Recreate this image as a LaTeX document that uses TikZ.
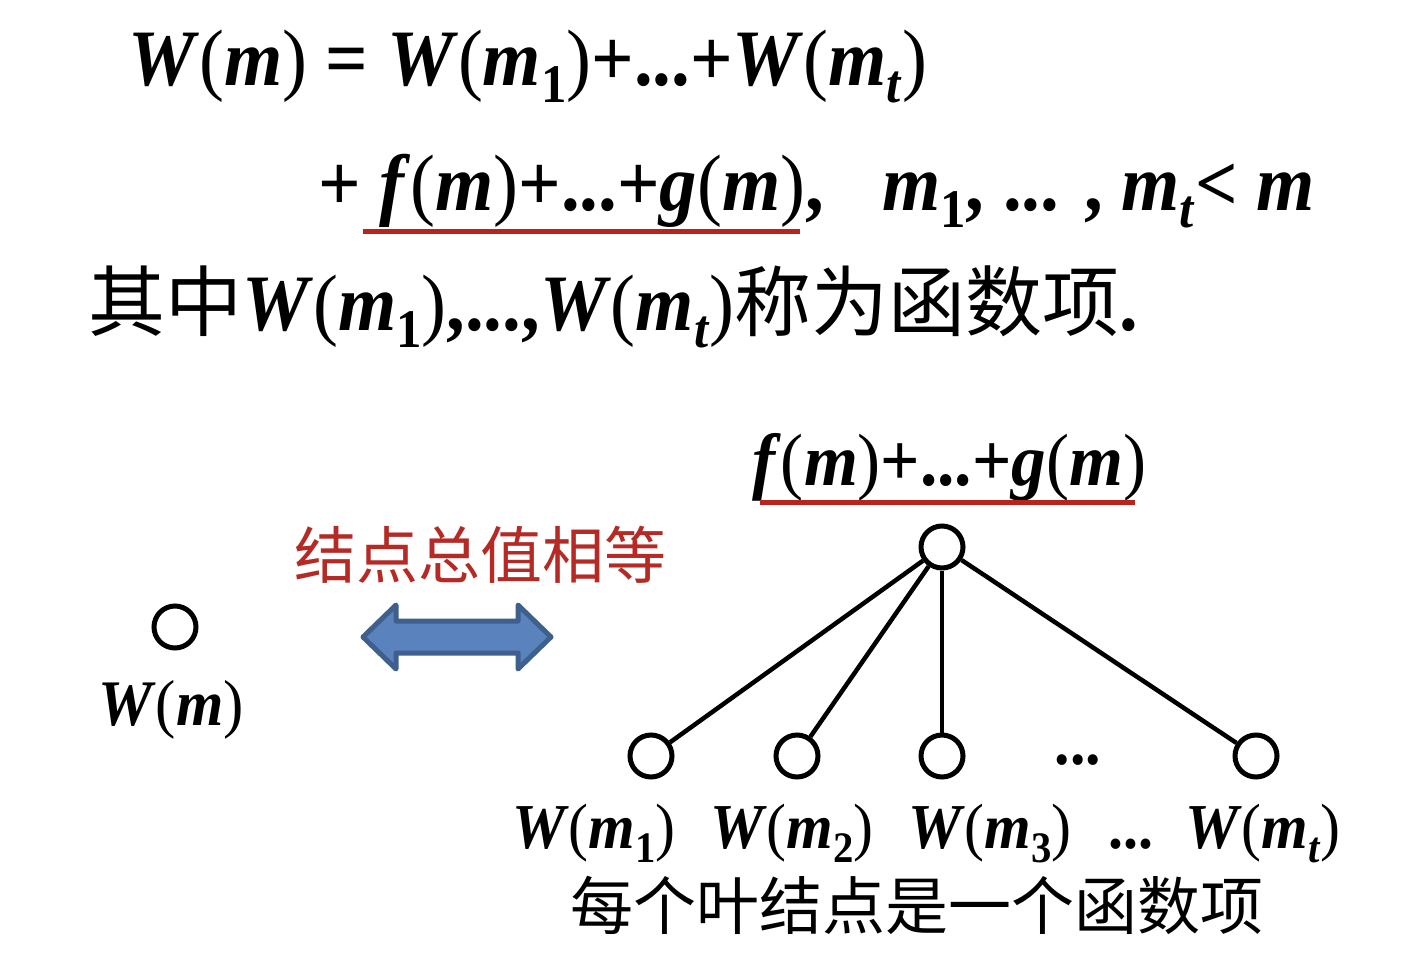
\documentclass[tikz,border=0pt]{standalone}
\usepackage{fontspec}
\usepackage{graphicx}
\setmainfont{Liberation Serif}[FakeStretch=0.935]
\newfontfamily\cjk{Noto Sans CJK SC}
\newcommand\fs[1]{\fontsize{#1}{#1}\selectfont}
\newcommand\sbs[1]{\raisebox{-0.22em}{\scalebox{0.68}{#1}}}
\newcommand\vi[1]{\textit{#1}}
\newcommand\lp{{\mdseries(}}
\newcommand\rp{{\mdseries)}}
\definecolor{ulred}{HTML}{B8231E}
\definecolor{txtred}{HTML}{B52A25}
\definecolor{arrfill}{HTML}{5A82BD}
\definecolor{arrline}{HTML}{3F5F8C}
\tikzset{
  txt/.style={inner sep=0pt, anchor=base west, font=\bfseries},
  vtx/.style={circle, draw=black, line width=5pt, minimum size=42pt, inner sep=0pt},
  edge/.style={line width=4.5pt},
  uline/.style={draw=ulred, line width=5pt},
}
\begin{document}
\begin{tikzpicture}[x=1pt,y=-1pt]
\useasboundingbox (0,0) rectangle (1410,961);
% formula lines
\node[txt] (l1) at (128,85) {\fs{80}\vi{W}\lp\vi{m}\rp\ = \vi{W}\lp\vi{m}\sbs{1}\rp+...+\vi{W}\lp\vi{m}\sbs{\vi{t}}\rp};
\node[txt] (l2) at (318,210) {\fs{80}+ \vi{f}\lp\vi{m}\rp+...+\vi{g}\lp\vi{m}\rp,\hspace{58pt}\vi{m}\sbs{1}, ... , \vi{m}\sbs{\vi{t}}< \vi{m}};
\draw[uline] (363,231) -- (800,231);
\node[txt] (l3) at (88,330) {\fs{80}{\cjk\mdseries\fs{77}其中}\vi{W}\lp\vi{m}\sbs{1}\rp,...,\vi{W}\lp\vi{m}\sbs{\vi{t}}\rp{\cjk\mdseries\fs{77}称为函数项}.};
% left node
\node[vtx] (w) at (175,627) {};
\node[txt] (wl) at (98,725) {\fs{65}\vi{W}\lp\vi{m}\rp};
% equal label and arrow
\node[inner sep=0pt, text=txtred, font=\cjk\fs{62}] (eq) at (480,555) {结点总值相等};
\draw[fill=arrfill, draw=arrline, line width=5pt, line join=round]
  (363,637) -- (396,605) -- (396,621) -- (518,621) -- (518,605) -- (551,637)
  -- (518,669) -- (518,653) -- (396,653) -- (396,669) -- cycle;
% tree
\node[txt] (fg) at (752,485) {\fs{74}\vi{f}\lp\vi{m}\rp+...+\vi{g}\lp\vi{m}\rp};
\draw[uline] (760,502) -- (1135,502);
\node[vtx] (r) at (942,547) {};
\node[vtx] (a) at (651,756) {};
\node[vtx] (b) at (797,756) {};
\node[vtx] (c) at (942,756) {};
\node[vtx] (d) at (1256,756) {};
\node[inner sep=0pt, font=\bfseries\fs{66}] (dots) at (1078,760) {...};
\draw[edge] (r) -- (a);
\draw[edge] (r) -- (b);
\draw[edge] (r) -- (c);
\draw[edge] (r) -- (d);
\node[txt] (la) at (512,848) {\fs{64}\vi{W}\lp\vi{m}\sbs{1}\rp};
\node[txt] (lb) at (710,848) {\fs{64}\vi{W}\lp\vi{m}\sbs{2}\rp};
\node[txt] (lc) at (908,848) {\fs{64}\vi{W}\lp\vi{m}\sbs{3}\rp};
\node[txt] (ld) at (1108,848) {\fs{64}...};
\node[txt] (le) at (1185,848) {\fs{64}\vi{W}\lp\vi{m}\sbs{\vi{t}}\rp};
\node[inner sep=0pt, font=\cjk\fs{63}] (cap) at (917,905) {每个叶结点是一个函数项};
\end{tikzpicture}
\end{document}
